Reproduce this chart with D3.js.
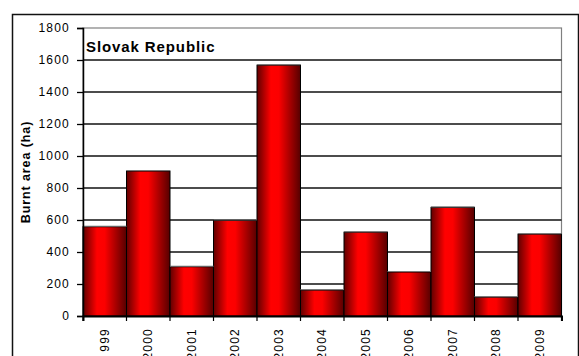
<!DOCTYPE html>
<html>
<head>
<meta charset="utf-8">
<script src="https://cdn.jsdelivr.net/npm/d3@7"></script>
<style>
  body { margin: 0; background: #fff; }
  svg { display: block; font-family: "Liberation Sans", Arial, sans-serif; }
</style>
</head>
<body>
<svg id="chart"></svg>
<script>
// data
const years = ["1999", "2000", "2001", "2002", "2003", "2004", "2005", "2006", "2007", "2008", "2009"];
const yearLabels = ["999", "2000", "2001", "2002", "2003", "2004", "2005", "2006", "2007", "2008", "2009"];
const burntArea = [558, 906, 308, 598, 1568, 162, 524, 275, 679, 118, 512];
const yTicks = [0, 200, 400, 600, 800, 1000, 1200, 1400, 1600, 1800];

const width = 579, height = 356;
const margin = { top: 28, left: 83, right: 17.5, bottom: 40 };
const plotW = width - margin.left - margin.right;
const plotH = height - margin.top - margin.bottom;

const svg = d3.select('#chart')
    .attr('width', width)
    .attr('height', height);

// outer frame
svg.append('rect')
    .attr('x', 12.5).attr('y', 14.5)
    .attr('width', 566).attr('height', 360)
    .attr('fill', 'none')
    .attr('stroke', '#111')
    .attr('stroke-width', 1.5);

// bar gradient
const grad = svg.append('defs').append('linearGradient')
    .attr('id', 'barGrad')
    .attr('x1', '0%').attr('x2', '100%').attr('y1', '0%').attr('y2', '0%');
grad.append('stop').attr('offset', '0%').attr('stop-color', '#600000');
grad.append('stop').attr('offset', '32%').attr('stop-color', '#ff0000');
grad.append('stop').attr('offset', '50%').attr('stop-color', '#fc0000');
grad.append('stop').attr('offset', '100%').attr('stop-color', '#560000');

const xScale = d3.scaleBand()
    .domain(years)
    .range([0, plotW])
    .paddingInner(0)
    .paddingOuter(0);

const yScale = d3.scaleLinear()
    .domain([0, 1800])
    .range([plotH, 0]);

const chart = svg.append('g')
    .attr('transform', `translate(${margin.left},${margin.top})`);

// plot area border (grey)
chart.append('rect')
    .attr('x', 0).attr('y', 0)
    .attr('width', plotW).attr('height', plotH)
    .attr('fill', 'none')
    .attr('stroke', '#808080')
    .attr('stroke-width', 1.2);

// gridlines
chart.selectAll('.grid')
  .data(yTicks.filter(d => d > 0 && d < 1800))
  .join('line')
    .attr('class', 'grid')
    .attr('x1', 0).attr('x2', plotW)
    .attr('y1', d => yScale(d)).attr('y2', d => yScale(d))
    .attr('stroke', '#111')
    .attr('stroke-width', 1.3);

// bars
chart.selectAll('.bar')
  .data(years)
  .join('rect')
    .attr('class', 'bar')
    .attr('x', d => xScale(d))
    .attr('y', (d, i) => yScale(burntArea[i]))
    .attr('width', xScale.bandwidth())
    .attr('height', (d, i) => plotH - yScale(burntArea[i]))
    .attr('fill', 'url(#barGrad)')
    .attr('stroke', '#000')
    .attr('stroke-width', 1);

// grey top edge on bars
chart.selectAll('.barTop')
  .data(years)
  .join('line')
    .attr('class', 'barTop')
    .attr('x1', d => xScale(d)).attr('x2', d => xScale(d) + xScale.bandwidth())
    .attr('y1', (d, i) => yScale(burntArea[i]) - 0.5)
    .attr('y2', (d, i) => yScale(burntArea[i]) - 0.5)
    .attr('stroke', '#777')
    .attr('stroke-width', 1);

// y axis
const yAxis = d3.axisLeft(yScale)
    .tickValues(yTicks)
    .tickFormat(d3.format('d'))
    .tickSize(6)
    .tickPadding(7);

const yAxisG = chart.append('g').call(yAxis);
yAxisG.select('.domain').attr('stroke', '#000').attr('stroke-width', 1.5);
yAxisG.selectAll('.tick line').attr('stroke', '#000').attr('stroke-width', 1.3);
yAxisG.selectAll('text')
    .attr('fill', '#000')
    .style('font-size', '12px')
    .style('letter-spacing', '1.2px');

// x axis
const xAxis = d3.axisBottom(xScale)
    .tickSize(5)
    .tickSizeOuter(5)
    .tickFormat((d, i) => yearLabels[i]);

const xAxisG = chart.append('g')
    .attr('transform', `translate(0,${plotH})`)
    .call(xAxis);
xAxisG.select('.domain').attr('stroke', '#000').attr('stroke-width', 2);
// ticks sit on band boundaries, not centres
xAxisG.selectAll('.tick line')
    .attr('x1', -xScale.bandwidth() / 2).attr('x2', -xScale.bandwidth() / 2)
    .attr('stroke', '#000').attr('stroke-width', 1.2);
xAxisG.append('line')
    .attr('x1', plotW).attr('x2', plotW)
    .attr('y1', 0).attr('y2', 5)
    .attr('stroke', '#000').attr('stroke-width', 1.2);
xAxisG.selectAll('text')
    .attr('fill', '#000')
    .style('font-size', '12px')
    .style('letter-spacing', '1.2px')
    .style('text-anchor', 'end')
    .attr('dx', '-12px')
    .attr('dy', '0.35em')
    .attr('y', 0)
    .attr('transform', 'rotate(-90)');

// title inside the plot
chart.append('text')
    .attr('x', 3)
    .attr('y', 24)
    .text('Slovak Republic')
    .attr('font-weight', 'bold')
    .attr('font-size', 15)
    .style('letter-spacing', '0.9px');

// y axis label
svg.append('g')
    .attr('transform', `translate(29.5,${margin.top + plotH / 2})`)
  .append('text')
    .attr('text-anchor', 'middle')
    .attr('transform', 'rotate(-90)')
    .text('Burnt area (ha)')
    .attr('font-weight', 'bold')
    .attr('font-size', 12.5)
    .style('letter-spacing', '0.9px');
</script>
</body>
</html>
